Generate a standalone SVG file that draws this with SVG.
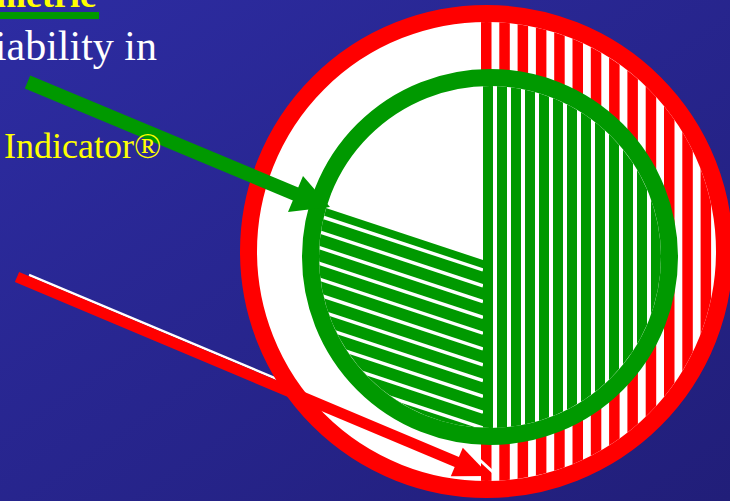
<svg xmlns="http://www.w3.org/2000/svg" width="730" height="501" viewBox="0 0 730 501">
  <defs>
    <linearGradient id="bg" x1="0" y1="0" x2="1" y2="1">
      <stop offset="0" stop-color="#2D2CA2"/>
      <stop offset="1" stop-color="#211E79"/>
    </linearGradient>
    <clipPath id="redInner">
      <circle cx="486.5" cy="251.5" r="229.5"/>
    </clipPath>
    <clipPath id="greenInner">
      <circle cx="490" cy="257" r="171"/>
    </clipPath>
    <clipPath id="wedge">
      <polygon points="483,260 280,193 280,470 483,470"/>
    </clipPath>
    <style>
      .red { fill: #FF0000; }
      .grn { fill: #009900; }
      .wl { stroke: #FFFFFF; fill: none; }
      .serif { font-family: "Liberation Serif", "Times New Roman", serif; }
    </style>
  </defs>

  <rect x="0" y="0" width="730" height="501" fill="url(#bg)"/>

  <!-- white highlight under red arrow shaft -->
  <line x1="29" y1="275" x2="470" y2="460" stroke="#FFFFFF" stroke-width="2.5"/>

  <g id="red-circle">
    <circle cx="486.5" cy="251.5" r="238" fill="#FFFFFF" stroke="#FF0000" stroke-width="17"/>
    <g clip-path="url(#redInner)" class="red">
      <rect x="481" y="0" width="10.5" height="501"/>
      <rect x="499.3" y="0" width="10.5" height="501"/>
      <rect x="517.6" y="0" width="10.5" height="501"/>
      <rect x="535.9" y="0" width="10.5" height="501"/>
      <rect x="554.2" y="0" width="10.5" height="501"/>
      <rect x="572.5" y="0" width="10.5" height="501"/>
      <rect x="590.8" y="0" width="10.5" height="501"/>
      <rect x="609.1" y="0" width="10.5" height="501"/>
      <rect x="627.4" y="0" width="10.5" height="501"/>
      <rect x="645.7" y="0" width="10.5" height="501"/>
      <rect x="664" y="0" width="10.5" height="501"/>
      <rect x="682.3" y="0" width="10.5" height="501"/>
      <rect x="700.6" y="0" width="10.5" height="501"/>
      <rect x="718.9" y="0" width="10.5" height="501"/>
    </g>
  </g>

  <g id="green-circle">
    <circle cx="490" cy="257" r="180" fill="#FFFFFF"/>
    <g clip-path="url(#greenInner)">
      <g class="grn">
        <rect x="483" y="60" width="10" height="400"/>
        <rect x="497" y="60" width="10" height="400"/>
        <rect x="511" y="60" width="10" height="400"/>
        <rect x="525" y="60" width="10" height="400"/>
        <rect x="539" y="60" width="10" height="400"/>
        <rect x="553" y="60" width="10" height="400"/>
        <rect x="567" y="60" width="10" height="400"/>
        <rect x="581" y="60" width="10" height="400"/>
        <rect x="595" y="60" width="10" height="400"/>
        <rect x="609" y="60" width="10" height="400"/>
        <rect x="623" y="60" width="10" height="400"/>
        <rect x="637" y="60" width="10" height="400"/>
        <rect x="651" y="60" width="10" height="400"/>
        <rect x="665" y="60" width="10" height="400"/>
      </g>
      <g clip-path="url(#wedge)">
        <rect x="280" y="180" width="203" height="300" class="grn"/>
        <g class="wl" stroke-width="3.4">
          <line x1="280" y1="203" x2="483" y2="270"/>
          <line x1="280" y1="218.8" x2="483" y2="285.8"/>
          <line x1="280" y1="234.6" x2="483" y2="301.6"/>
          <line x1="280" y1="250.4" x2="483" y2="317.4"/>
          <line x1="280" y1="266.2" x2="483" y2="333.2"/>
          <line x1="280" y1="282" x2="483" y2="349"/>
          <line x1="280" y1="297.8" x2="483" y2="364.8"/>
          <line x1="280" y1="313.6" x2="483" y2="380.6"/>
          <line x1="280" y1="329.4" x2="483" y2="396.4"/>
          <line x1="280" y1="345.2" x2="483" y2="412.2"/>
          <line x1="280" y1="361" x2="483" y2="428"/>
          <line x1="280" y1="376.8" x2="483" y2="443.8"/>
          <line x1="280" y1="392.6" x2="483" y2="459.6"/>
        </g>
      </g>
    </g>
    <circle cx="490" cy="257" r="179.5" fill="none" stroke="#009900" stroke-width="17"/>
  </g>

  <g id="connectors">
    <g id="red-arrow">
      <line x1="17" y1="277" x2="458" y2="462.5" stroke="#FF0000" stroke-width="11"/>
      <polygon class="red" points="490,476 450.8,476.3 462.8,447.7"/>
      <line x1="464" y1="445.5" x2="494" y2="473" stroke="#FFFFFF" stroke-width="3"/>
    </g>
    <g id="green-arrow">
      <line x1="27.5" y1="82" x2="298" y2="195" stroke="#009900" stroke-width="14"/>
      <polygon class="grn" points="330,207 288,212 303,176"/>
    </g>
  </g>

  <g id="texts" class="serif">
    <text x="96" y="7" font-size="36" font-weight="bold" fill="#FFFF00" text-anchor="end">metric</text>
    <rect x="0" y="12" width="99" height="7" fill="#009900"/>
    <text x="157" y="60" font-size="42" fill="#FFFFFF" text-anchor="end">iability in</text>
    <text x="4" y="158" font-size="36" fill="#FFFF00">Indicator®</text>
  </g>
</svg>
